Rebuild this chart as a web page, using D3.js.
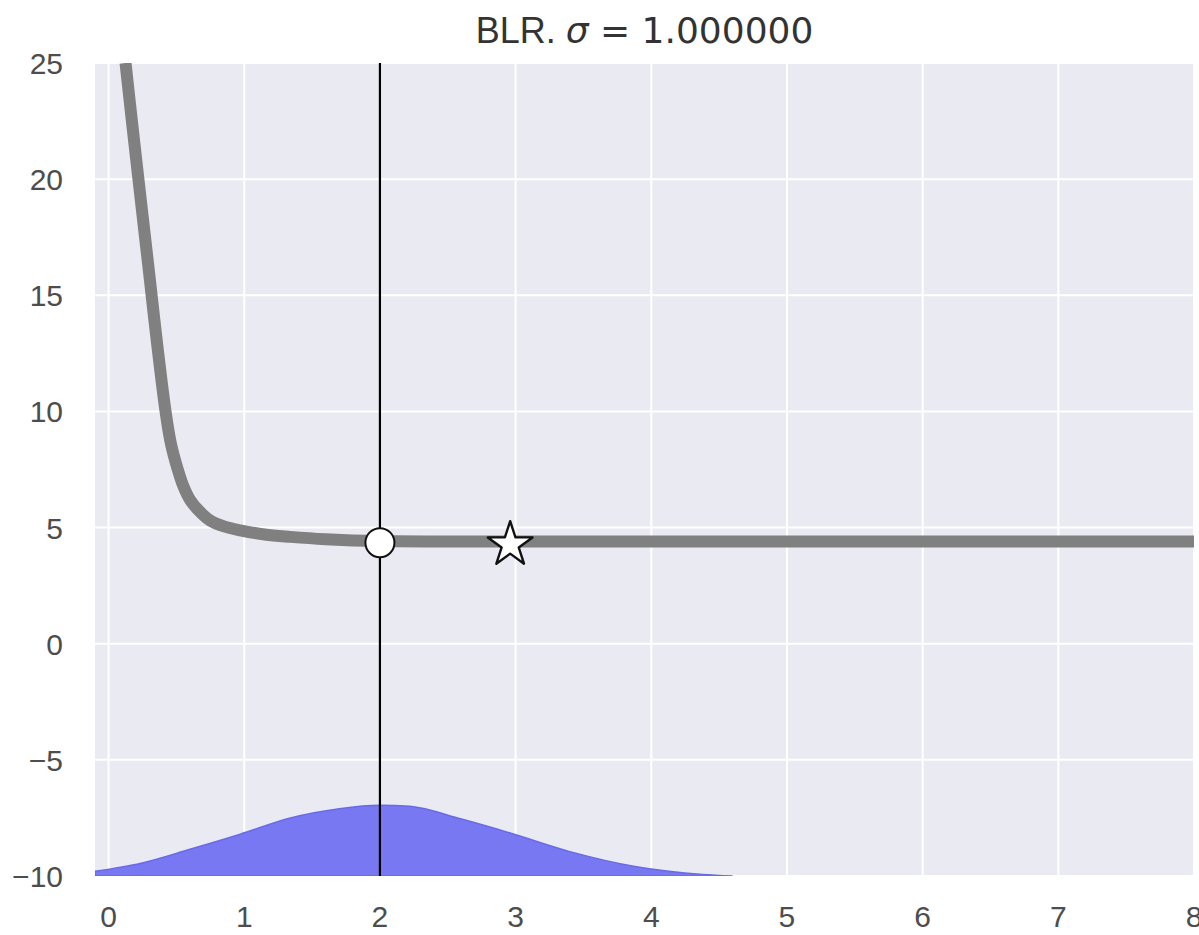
<!DOCTYPE html>
<html>
<head>
<meta charset="utf-8">
<script src="https://cdn.jsdelivr.net/npm/d3@7"></script>
<style>
  html, body { margin: 0; padding: 0; background: #ffffff; }
  svg { display: block; }
  .tick-label { font-family: "Liberation Sans", Arial, sans-serif; font-size: 30px; fill: #4d4d4d; }
  .title { font-family: "Liberation Sans", Arial, sans-serif; font-size: 36px; fill: #333333; }
</style>
</head>
<body>
<script>
// Loss curve (gray) sampled along x
const lossX = [0.125, 0.17, 0.22, 0.26, 0.30, 0.36, 0.42, 0.46, 0.51, 0.55, 0.60, 0.67, 0.75, 0.85, 0.97, 1.15, 1.34, 1.6, 2.0, 3.0, 4.0, 5.0, 6.0, 7.0, 8.0];
const lossY = [25.0, 22.6, 20.0, 17.95, 15.9, 12.8, 10.0, 8.6, 7.5, 6.8, 6.2, 5.7, 5.3, 5.05, 4.88, 4.7, 4.6, 4.5, 4.42, 4.4, 4.4, 4.4, 4.4, 4.4, 4.4];

// Posterior density drawn on the floor of the plot
const densX = [-0.1, 0.24, 0.6, 0.97, 1.34, 1.7, 2.0, 2.22, 2.6, 2.96, 3.4, 3.89, 4.38, 4.6];
const densY = [-9.8, -9.45, -8.85, -8.2, -7.5, -7.1, -6.95, -7.0, -7.55, -8.15, -8.95, -9.6, -9.93, -10.0];

// Current estimate (circle) and optimum (star)
const currentPoint = { x: 2.0, y: 4.35 };
const optimumPoint = { x: 2.96, y: 4.35 };

const xTicks = [0, 1, 2, 3, 4, 5, 6, 7, 8];
const yTicks = [-10, -5, 0, 5, 10, 15, 20, 25];
const yBase = -10;

const W = 1199, H = 935;
const plotLeft = 95, plotRight = 1194, plotTop = 63, plotBottom = 876;

const svg = d3.select("body").append("svg").attr("width", W).attr("height", H);

const x = d3.scaleLinear().domain([-0.1, 8]).range([plotLeft, plotRight]);
const y = d3.scaleLinear().domain([-10, 25]).range([plotBottom, plotTop]);

// axes background
svg.append("rect").attr("x", plotLeft).attr("y", plotTop)
  .attr("width", plotRight - plotLeft).attr("height", plotBottom - plotTop).attr("fill", "#eaeaf2");

svg.append("clipPath").attr("id", "plotclip")
  .append("rect").attr("x", plotLeft).attr("y", plotTop)
  .attr("width", plotRight - plotLeft).attr("height", plotBottom - plotTop);

// grid
const grid = svg.append("g").attr("clip-path", "url(#plotclip)");
grid.selectAll("line.vx").data(xTicks).join("line")
  .attr("x1", d => x(d)).attr("x2", d => x(d)).attr("y1", plotTop).attr("y2", plotBottom)
  .attr("stroke", "#ffffff").attr("stroke-width", 2);
grid.selectAll("line.hy").data(yTicks).join("line")
  .attr("x1", plotLeft).attr("x2", plotRight).attr("y1", d => y(d)).attr("y2", d => y(d))
  .attr("stroke", "#ffffff").attr("stroke-width", 2);

const plot = svg.append("g").attr("clip-path", "url(#plotclip)");

// density fill
const dens = densX.map((v, i) => [v, densY[i]]);
plot.append("path").datum(dens)
  .attr("d", d3.area().x(d => x(d[0])).y0(y(yBase)).y1(d => y(d[1])).curve(d3.curveMonotoneX))
  .attr("fill", "#7878f2").attr("stroke", "#6a6ae6").attr("stroke-width", 1.5);

// loss curve
const loss = lossX.map((v, i) => [v, lossY[i]]);
plot.append("path").datum(loss)
  .attr("d", d3.line().x(d => x(d[0])).y(d => y(d[1])).curve(d3.curveCatmullRom.alpha(0.5)))
  .attr("fill", "none").attr("stroke", "#808080").attr("stroke-width", 12)
  .attr("stroke-linejoin", "round");

// vertical line at current estimate
plot.append("line")
  .attr("x1", x(currentPoint.x)).attr("x2", x(currentPoint.x))
  .attr("y1", plotTop).attr("y2", plotBottom)
  .attr("stroke", "#000000").attr("stroke-width", 2.2);

// circle marker
plot.append("circle")
  .attr("cx", x(currentPoint.x)).attr("cy", y(currentPoint.y)).attr("r", 14.5)
  .attr("fill", "#ffffff").attr("stroke", "#111111").attr("stroke-width", 2);

// star marker
plot.append("path")
  .attr("transform", `translate(${x(optimumPoint.x)},${y(optimumPoint.y) + 2})`)
  .attr("d", d3.symbol().type(d3.symbolStar).size(620)())
  .attr("fill", "#ffffff").attr("stroke", "#111111").attr("stroke-width", 2.4)
  .attr("stroke-linejoin", "round");

// tick labels
svg.selectAll("text.xl").data(xTicks).join("text")
  .attr("class", "tick-label xl").attr("x", d => x(d)).attr("y", 927)
  .attr("text-anchor", "middle").text(d => d);
svg.selectAll("text.yl").data(yTicks).join("text")
  .attr("class", "tick-label yl").attr("x", 63).attr("y", d => y(d) + 11)
  .attr("text-anchor", "end").text(d => d < 0 ? "\u2212" + Math.abs(d) : d);

// title: plain prefix followed by the math part
const title = svg.append("text").attr("class", "title")
  .attr("x", (plotLeft + plotRight) / 2).attr("y", 43).attr("text-anchor", "middle");
title.append("tspan").text("BLR. ");
title.append("tspan").attr("font-family", "DejaVu Sans, sans-serif").attr("font-style", "italic").text("σ");
title.append("tspan").attr("font-family", "DejaVu Sans, sans-serif").text(" = 1.000000");
</script>
</body>
</html>
